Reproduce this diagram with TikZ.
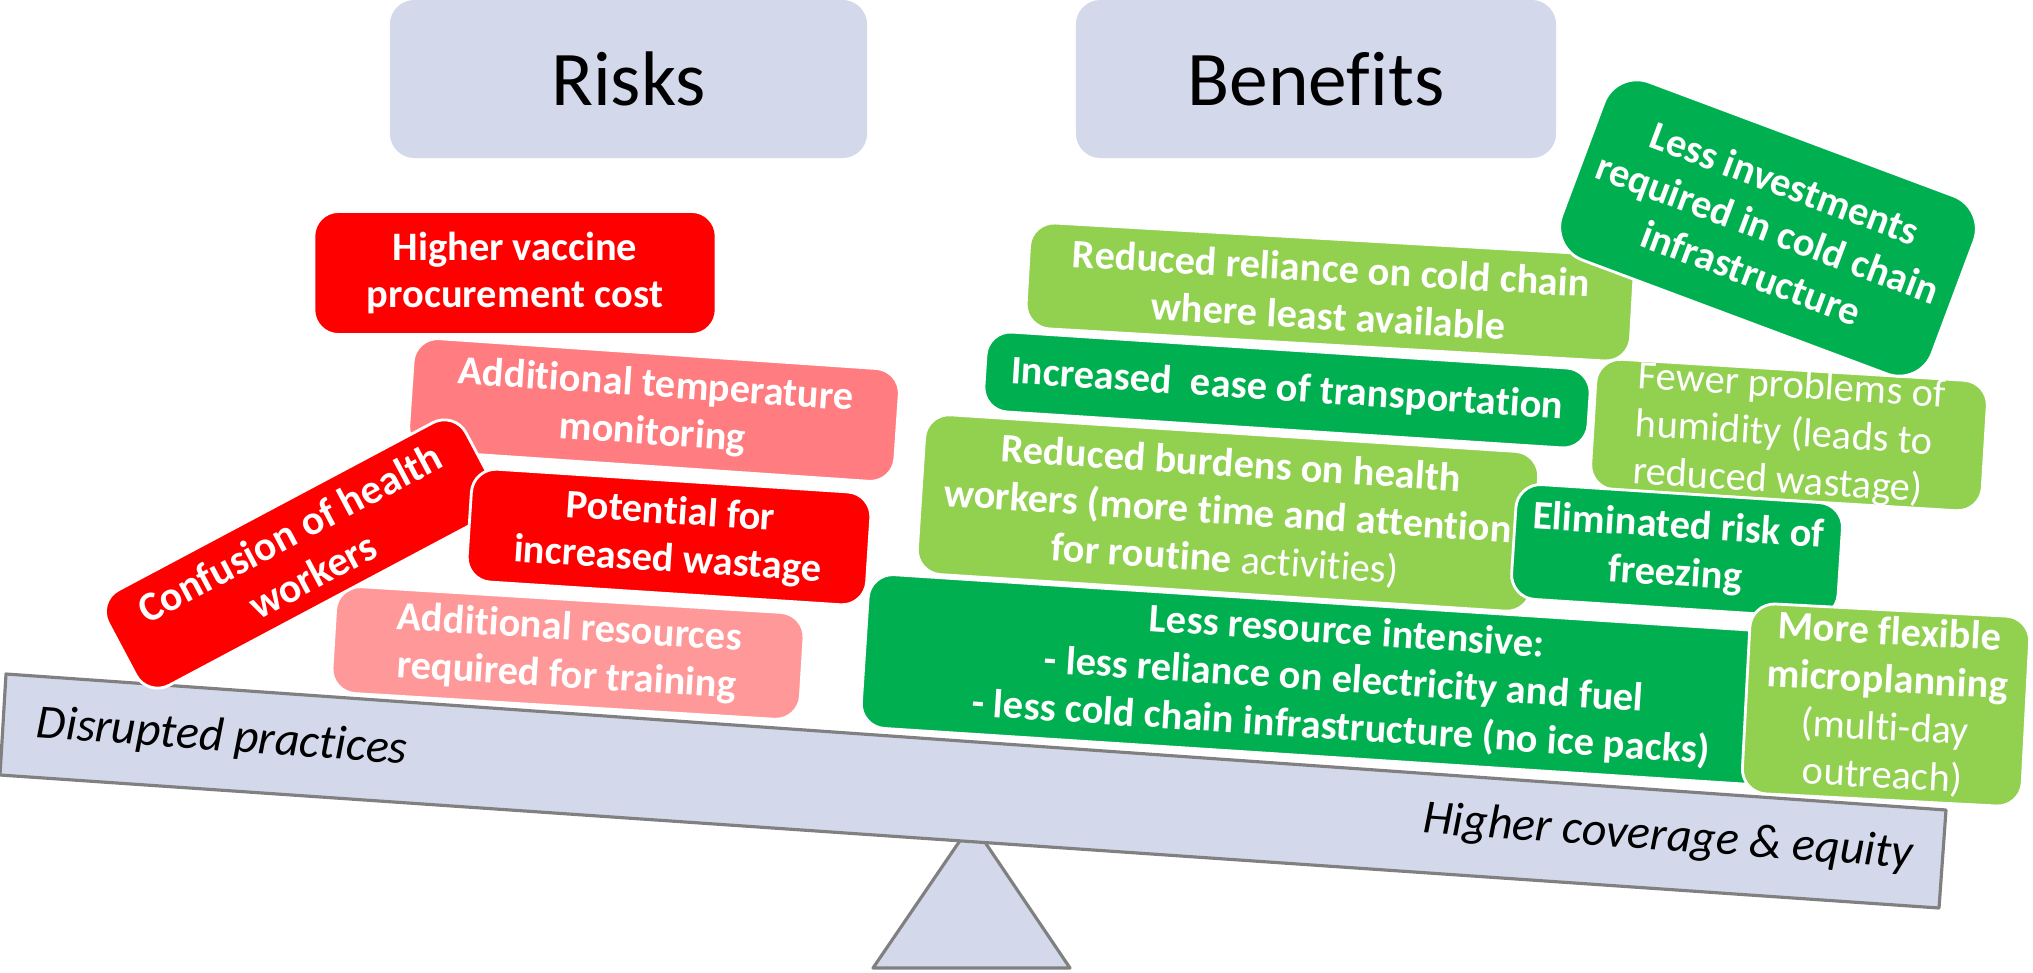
\documentclass[tikz,border=0pt]{standalone}
\usepackage{fontspec}
\setmainfont{Carlito}[Ligatures={NoCommon}]
\definecolor{scaleGray}{RGB}{211,217,235}
\definecolor{edgeGray}{RGB}{128,128,128}
\definecolor{riskRed}{RGB}{255,0,0}
\definecolor{riskPink}{RGB}{255,124,128}
\definecolor{riskRose}{RGB}{255,153,153}
\definecolor{gainDark}{RGB}{0,176,80}
\definecolor{gainLight}{RGB}{146,208,80}
\newcommand{\cardFont}{\fontsize{11.5}{13.6}\selectfont\bfseries}
\newcommand{\plainPart}[1]{{\mdseries #1}}

\begin{document}
\begin{tikzpicture}[x=0.01cm,y=-0.01cm,%%
  headStyle/.style={fill=scaleGray,rounded corners=7pt,inner sep=0pt,font=\fontsize{22}{26}\selectfont},%%
  scaleStyle/.style={fill=scaleGray,draw=edgeGray,line width=0.9pt,line join=round},%%
  sideStyle/.style={font=\fontsize{13.6}{16}\selectfont\itshape},%%
  cardStyle/.style={draw=white,line width=0.8pt,rounded corners=7pt,inner sep=0pt,text=white,align=center,font=\cardFont}
]
\useasboundingbox (0,0) rectangle (2033,973);
%%
%% The two headings.
\node[headStyle,minimum width=4.77cm,minimum height=1.58cm] (risks) at (628.5,79) {Risks};
\node[headStyle,minimum width=4.80cm,minimum height=1.58cm] (benefits) at (1316,79) {Benefits};
%%
%% The balance: fulcrum first, then the beam over it.
\coordinate (apex) at (972,823);
\coordinate (baseLeft) at (873,968);
\coordinate (baseRight) at (1070,968);
\draw[scaleStyle] (apex) -- (baseRight) -- (baseLeft) -- cycle;
\coordinate (beamTL) at (6,674);
\coordinate (beamTR) at (1946,810);
\coordinate (beamBR) at (1939,908);
\coordinate (beamBL) at (0,775);
\draw[scaleStyle] (beamTL) -- (beamTR) -- (beamBR) -- (beamBL) -- cycle;
\node[sideStyle,rotate=-4.1] (leftSide) at (222,738) {Disrupted practices};
\node[sideStyle,rotate=-4.1] (rightSide) at (1668,838) {Higher coverage \& equity};
%%
%% Risks, stacked on the left pan.
\node[cardStyle,fill=riskRed,minimum width=4.02cm,minimum height=1.23cm] (vaccineCost) at (515,273) {Higher vaccine\\procurement cost};
\node[cardStyle,fill=riskPink,rotate=-3.9,minimum width=4.87cm,minimum height=1.13cm] (tempMonitoring) at (654,410) {Additional temperature\\monitoring};
\node[cardStyle,fill=riskRose,rotate=-3.5,minimum width=4.69cm,minimum height=1.07cm] (trainingCost) at (568,653) {Additional resources\\required for training};
\node[cardStyle,fill=riskRed,rotate=28,minimum width=4.05cm,minimum height=1.08cm,font=\fontsize{11.8}{13.8}\selectfont\bfseries] (workerConfusion) at (301,554) {Confusion of health\\workers};
\node[cardStyle,fill=riskRed,rotate=-3.7,minimum width=4.0cm,minimum height=1.13cm] (wastage) at (669,537) {Potential for\\increased wastage};
%%
%% Benefits, stacked on the right pan.
\node[cardStyle,fill=gainLight,rotate=-3.3,minimum width=6.05cm,minimum height=1.06cm] (coldReliance) at (1330,292) {Reduced reliance on cold chain\\where least available};
\node[cardStyle,fill=gainDark,rotate=-3.7,minimum width=6.05cm,minimum height=0.80cm] (transportEase) at (1287,390) {Increased\ \ ease of transportation};
\node[cardStyle,fill=gainLight,rotate=-3.5,minimum width=3.92cm,minimum height=1.30cm,align=left,font=\fontsize{11.5}{13.6}\selectfont] (humidity) at (1789,435) {Fewer problems of\\humidity (leads to\\reduced wastage)};
\node[cardStyle,fill=gainDark,rotate=-20.5,rounded corners=10pt,minimum width=3.95cm,minimum height=1.90cm] (coldInvestment) at (1768,228) {Less investments\\required in cold chain\\infrastructure};
\node[cardStyle,fill=gainLight,rotate=-3.7,minimum width=6.15cm,minimum height=1.60cm] (healthBurden) at (1228,513) {Reduced burdens on health\\workers (more time and attention\\for routine \plainPart{activities)}};
\node[cardStyle,fill=gainDark,rotate=-3.7,minimum width=3.27cm,minimum height=1.15cm] (freezing) at (1677,551) {Eliminated risk of\\freezing};
\node[cardStyle,fill=gainDark,rotate=-3.7,minimum width=9.6cm,minimum height=1.54cm] (resourceUse) at (1344,681) {Less resource intensive:\\- less reliance on electricity and fuel\\- less cold chain infrastructure (no ice packs)};
\node[cardStyle,fill=gainLight,rotate=-3,minimum width=2.8cm,minimum height=1.90cm] (flexiblePlan) at (1886,705) {More flexible\\microplanning\\\plainPart{(multi-day}\\\plainPart{outreach)}};
\end{tikzpicture}
\end{document}
